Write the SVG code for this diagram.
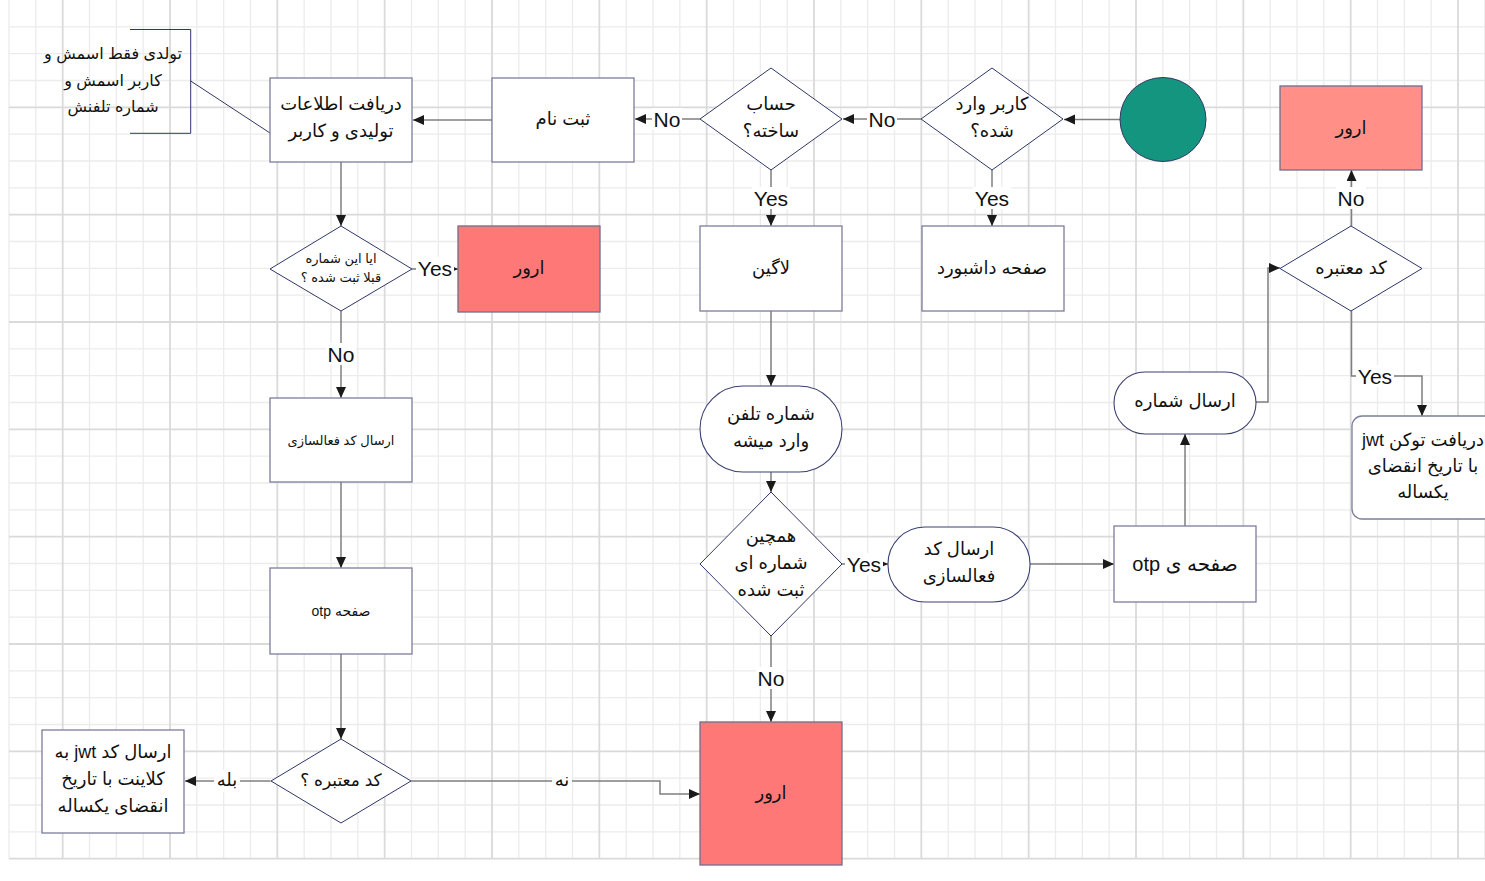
<svg xmlns="http://www.w3.org/2000/svg" width="1485" height="881" viewBox="0 0 1485 881">
<style>
.gmin{stroke:#ececec;stroke-width:1.3;fill:none}
.gmaj{stroke:#dadada;stroke-width:1.8;fill:none}
.box{fill:#fff;stroke:#7b7f99;stroke-width:1.3}
.err{fill:#ff7878;stroke:#6e6f8f;stroke-width:1.3}
.err2{fill:#ff8f87;stroke:#6e6f8f;stroke-width:1.3}
.dia{fill:#fff;stroke:#2f3768;stroke-width:1}
.stad{fill:#fff;stroke:#3a4170;stroke-width:1.1}
.c{fill:none;stroke:#7f7f7f;stroke-width:1.5}
.ar{font-family:"Liberation Sans","DejaVu Sans",sans-serif;fill:#111;text-anchor:middle;direction:rtl;unicode-bidi:embed}
.t16{font-size:16px}
.t18{font-size:18px}
.t13{font-size:13px}
.t14{font-size:14px}
.t17{font-size:17px}
.t20{font-size:20px}
.lb{font-family:"Liberation Sans",Arial,sans-serif;font-size:21px;fill:#111;text-anchor:middle}
.lbg{fill:#fff}
</style>
<defs>
<marker id="arr" markerUnits="userSpaceOnUse" markerWidth="12" markerHeight="12" refX="11" refY="5" orient="auto">
<path d="M0,0 L11,5 L0,10 Z" fill="#1a1a1a"/>
</marker>
</defs>
<rect width="1485" height="881" fill="#fff"/>
<g id="grid">
<path class="gmin" d="M9 0V858.67M35.83 0V858.67M89.5 0V858.67M116.33 0V858.67M143.17 0V858.67M196.83 0V858.67M223.67 0V858.67M250.5 0V858.67M304.17 0V858.67M331 0V858.67M357.83 0V858.67M411.5 0V858.67M438.33 0V858.67M465.17 0V858.67M518.83 0V858.67M545.67 0V858.67M572.5 0V858.67M626.17 0V858.67M653 0V858.67M679.83 0V858.67M733.5 0V858.67M760.33 0V858.67M787.17 0V858.67M840.83 0V858.67M867.67 0V858.67M894.5 0V858.67M948.17 0V858.67M975 0V858.67M1001.83 0V858.67M1055.5 0V858.67M1082.33 0V858.67M1109.17 0V858.67M1162.83 0V858.67M1189.67 0V858.67M1216.5 0V858.67M1270.17 0V858.67M1297 0V858.67M1323.83 0V858.67M1377.5 0V858.67M1404.33 0V858.67M1431.17 0V858.67M1484.83 0V858.67M9 26.83H1485M9 53.67H1485M9 80.5H1485M9 134.17H1485M9 161H1485M9 187.83H1485M9 241.5H1485M9 268.33H1485M9 295.17H1485M9 348.83H1485M9 375.67H1485M9 402.5H1485M9 456.17H1485M9 483H1485M9 509.83H1485M9 563.5H1485M9 590.33H1485M9 617.17H1485M9 670.83H1485M9 697.67H1485M9 724.5H1485M9 778.17H1485M9 805H1485M9 831.83H1485"/>
<path class="gmaj" d="M62.67 0V858.67M170 0V858.67M277.33 0V858.67M384.67 0V858.67M492 0V858.67M599.33 0V858.67M706.67 0V858.67M814 0V858.67M921.33 0V858.67M1028.67 0V858.67M1136 0V858.67M1243.33 0V858.67M1350.67 0V858.67M1458 0V858.67M9 107.33H1485M9 214.67H1485M9 322H1485M9 429.33H1485M9 536.67H1485M9 644H1485M9 751.33H1485M9 858.67H1485"/>
</g>
<g id="connectors">
<path class="c" d="M1120 119.5H1064" marker-end="url(#arr)"/>
<path class="c" d="M921 119H843" marker-end="url(#arr)"/>
<path class="c" d="M700 119H635" marker-end="url(#arr)"/>
<path class="c" d="M492 120H413" marker-end="url(#arr)"/>
<path d="M190.7 81L270 133" fill="none" stroke="#2f3768" stroke-width="1"/>
<path class="c" d="M341 162V226" marker-end="url(#arr)"/>
<path class="c" d="M412 269H458" marker-end="url(#arr)"/>
<path class="c" d="M341 311V398" marker-end="url(#arr)"/>
<path class="c" d="M341 482V568" marker-end="url(#arr)"/>
<path class="c" d="M341 654V739" marker-end="url(#arr)"/>
<path class="c" d="M270.7 781H185" marker-end="url(#arr)"/>
<path class="c" d="M411 781H660V794H700" marker-end="url(#arr)"/>
<path class="c" d="M771 170V226" marker-end="url(#arr)"/>
<path class="c" d="M992 170V226" marker-end="url(#arr)"/>
<path class="c" d="M771 311V386" marker-end="url(#arr)"/>
<path class="c" d="M771 472V492" marker-end="url(#arr)"/>
<path class="c" d="M771 636V722" marker-end="url(#arr)"/>
<path class="c" d="M842 564H888" marker-end="url(#arr)"/>
<path class="c" d="M1030 564H1114" marker-end="url(#arr)"/>
<path class="c" d="M1185 526V434" marker-end="url(#arr)"/>
<path class="c" d="M1256 402H1268V268H1280" marker-end="url(#arr)"/>
<path class="c" d="M1351.5 226V170" marker-end="url(#arr)"/>
<path class="c" d="M1351.5 311V376H1422V416" marker-end="url(#arr)"/>
<g id="labels">
<rect class="lbg" x="652" y="108" width="30" height="22"/><text class="lb" x="667" y="127">No</text>
<rect class="lbg" x="867" y="108" width="30" height="22"/><text class="lb" x="882" y="127">No</text>
<rect class="lbg" x="1336" y="187" width="30" height="22"/><text class="lb" x="1351" y="206">No</text>
<rect class="lbg" x="326" y="343" width="30" height="22"/><text class="lb" x="341" y="362">No</text>
<rect class="lbg" x="756" y="667" width="30" height="22"/><text class="lb" x="771" y="686">No</text>
<rect class="lbg" x="752" y="187" width="38" height="22"/><text class="lb" x="771" y="206">Yes</text>
<rect class="lbg" x="973" y="187" width="38" height="22"/><text class="lb" x="992" y="206">Yes</text>
<rect class="lbg" x="416" y="257" width="38" height="22"/><text class="lb" x="435" y="276">Yes</text>
<rect class="lbg" x="845" y="553" width="38" height="22"/><text class="lb" x="864" y="572">Yes</text>
<rect class="lbg" x="1356" y="365" width="38" height="22"/><text class="lb" x="1375" y="384">Yes</text>
<rect class="lbg" x="214" y="770" width="26" height="22"/><text class="ar t18" x="227" y="786">بله</text>
<rect class="lbg" x="552" y="770" width="20" height="22"/><text class="ar t18" x="562" y="786">نه</text>
</g>
</g>
<g id="note">
<path d="M130 29.5H190.7V133.3H130" fill="none" stroke="#2f3768" stroke-width="1"/>
<text class="ar t16" x="113" y="59">تولدی فقط اسمش و</text>
<text class="ar t16" x="113" y="86">کاربر اسمش و</text>
<text class="ar t16" x="113" y="112">شماره تلفنش</text>
</g>
<g id="n-info">
<rect class="box" x="270" y="78" width="142" height="84"/>
<text class="ar t18" x="341" y="110">دریافت اطلاعات</text>
<text class="ar t18" x="341" y="137">تولیدی و کاربر</text>
</g>
<g id="n-signup">
<rect class="box" x="492" y="78" width="142" height="84"/>
<text class="ar t18" x="563" y="125">ثبت نام</text>
</g>
<g id="n-hasaccount">
<polygon class="dia" points="771,68 842,119 771,170 700,119"/>
<text class="ar t18" x="771" y="110">حساب</text>
<text class="ar t18" x="771" y="137">ساخته؟</text>
</g>
<g id="n-loggedin">
<polygon class="dia" points="992,68 1063,119 992,170 921,119"/>
<text class="ar t18" x="992" y="110">کاربر وارد</text>
<text class="ar t18" x="992" y="137">شده؟</text>
</g>
<g id="n-start">
<ellipse cx="1163" cy="119.5" rx="43" ry="42" fill="#14957f" stroke="#2f3768" stroke-width="1"/>
</g>
<g id="n-error-top">
<rect class="err2" x="1280" y="86" width="142" height="84"/>
<text class="ar t18" x="1351" y="134">ارور</text>
</g>
<g id="n-valid-right">
<polygon class="dia" points="1351,226 1422,268.5 1351,311 1280,268.5"/>
<text class="ar t18" x="1351" y="274">کد معتبره</text>
</g>
<g id="n-token">
<rect class="box" x="1352" y="416" width="142" height="103" rx="10"/>
<text class="ar t18" x="1423" y="446">دریافت توکن jwt</text>
<text class="ar t18" x="1423" y="472">با تاریخ انقضای</text>
<text class="ar t18" x="1423" y="498">یکساله</text>
</g>
<g id="n-sendnumber">
<rect class="stad" x="1114" y="372" width="142" height="62" rx="31"/>
<text class="ar t18" x="1185" y="407">ارسال شماره</text>
</g>
<g id="n-otp-right">
<rect class="box" x="1114" y="526" width="142" height="76"/>
<text class="ar t20" x="1185" y="571">صفحه ی otp</text>
</g>
<g id="n-sendcode-right">
<rect class="stad" x="888" y="527" width="142" height="75" rx="37"/>
<text class="ar t18" x="959" y="555">ارسال کد</text>
<text class="ar t18" x="959" y="582">فعالسازی</text>
</g>
<g id="n-exists">
<polygon class="dia" points="771,492 842,564 771,636 700,564"/>
<text class="ar t18" x="771" y="542">همچین</text>
<text class="ar t18" x="771" y="569">شماره ای</text>
<text class="ar t18" x="771" y="596">ثبت شده</text>
</g>
<g id="n-phone">
<rect class="stad" x="700" y="386" width="142" height="86" rx="43"/>
<text class="ar t18" x="771" y="420">شماره تلفن</text>
<text class="ar t18" x="771" y="447">وارد میشه</text>
</g>
<g id="n-login">
<rect class="box" x="700" y="226" width="142" height="85"/>
<text class="ar t18" x="771" y="274">لاگین</text>
</g>
<g id="n-dashboard">
<rect class="box" x="922" y="226" width="142" height="85"/>
<text class="ar t18" x="992" y="274">صفحه داشبورد</text>
</g>
<g id="n-error-big">
<rect class="err" x="700" y="722" width="142" height="143"/>
<text class="ar t18" x="771" y="799">ارور</text>
</g>
<g id="n-registered">
<polygon class="dia" points="341,226 412,269 341,311 270,269"/>
<text class="ar t13" x="341" y="263">ایا این شماره</text>
<text class="ar t13" x="341" y="282">قبلا ثبت شده ؟</text>
</g>
<g id="n-error-left">
<rect class="err" x="458" y="226" width="142" height="86"/>
<text class="ar t18" x="529" y="274">ارور</text>
</g>
<g id="n-sendcode-left">
<rect class="box" x="270" y="398" width="142" height="84"/>
<text class="ar t13" x="341" y="445">ارسال کد فعالسازی</text>
</g>
<g id="n-otp-left">
<rect class="box" x="270" y="568" width="142" height="86"/>
<text class="ar t14" x="341" y="616">صفحه otp</text>
</g>
<g id="n-valid-left">
<polygon class="dia" points="341,739 411,781 341,823 271,781"/>
<text class="ar t17" x="341" y="786">کد معتبره ؟</text>
</g>
<g id="n-jwt">
<rect class="box" x="42" y="730" width="142" height="103"/>
<text class="ar t18" x="113" y="758">ارسال کد jwt به</text>
<text class="ar t18" x="113" y="785">کلاینت با تاریخ</text>
<text class="ar t18" x="113" y="812">انقضای یکساله</text>
</g>
</svg>
